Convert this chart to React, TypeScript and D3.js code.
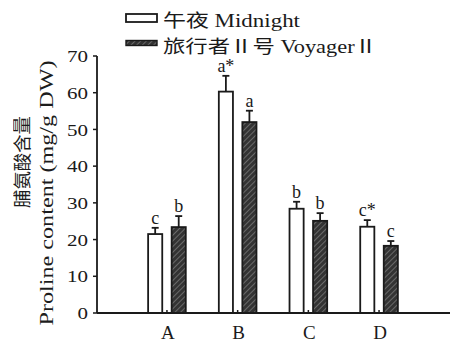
import * as d3 from 'd3'

const groups = ['A', 'B', 'C', 'D']
const seriesNames = ['午夜 Midnight', '旅行者Ⅱ号 VoyagerⅡ']
const midnight = [21.5, 60.3, 28.4, 23.5]
const midnightErr = [1.7, 4.3, 1.9, 1.8]
const voyager = [23.4, 52.0, 25.1, 18.3]
const voyagerErr = [3.0, 3.1, 2.1, 1.3]
const midnightLetters = ['c', 'a*', 'b', 'c*']
const voyagerLetters = ['b', 'a', 'b', 'c']
const yTicks = [0, 10, 20, 30, 40, 50, 60, 70]

const W = 451
const H = 343
const margin = { top: 56, right: 1, bottom: 30, left: 97 }
const font = '"Liberation Serif", "Times New Roman", "Noto Sans CJK SC", serif'
const ink = '#1a1a1a'

export default function App() {
  const y = d3.scaleLinear().domain([0, 70]).range([H - margin.bottom, margin.top])
  const x = d3.scaleBand().domain(groups).range([131.6, 414.4])
  const x1 = d3.scaleBand().domain(['m', 'v']).range([0, 40]).paddingInner(0.4).paddingOuter(0.05)
  const base = y(0)

  const series = [
    { key: 'm', vals: midnight, err: midnightErr, letters: midnightLetters, fill: '#fff' },
    { key: 'v', vals: voyager, err: voyagerErr, letters: voyagerLetters, fill: 'url(#hatch)' },
  ]

  return (
    <svg width={W} height={H} style={{ position: 'absolute', left: 0, top: 0, background: '#fff' }}>
      <defs>
        <pattern id="hatch" width="4" height="4" patternUnits="userSpaceOnUse" patternTransform="rotate(45)">
          <rect width="4" height="4" fill="#333" />
          <line x1="0" y1="0" x2="0" y2="4" stroke="#aaa" strokeWidth="0.9" />
        </pattern>
      </defs>

      {/* legend */}
      <rect x={126} y={14} width={31} height={8} fill="#fff" stroke={ink} strokeWidth={1.8} />
      <text x={163} y={27} fontFamily={font} fontSize={18} fill={ink} textLength={137} lengthAdjust="spacingAndGlyphs">
        {seriesNames[0]}
      </text>
      <rect x={126} y={40.5} width={31} height={5} fill="url(#hatch)" stroke={ink} strokeWidth={1.4} />
      <text x={163} y={53} fontFamily={font} fontSize={18} fill={ink} textLength={214} lengthAdjust="spacingAndGlyphs">
        {seriesNames[1]}
      </text>

      {/* y axis */}
      <line x1={margin.left} x2={margin.left} y1={y(70)} y2={base} stroke={ink} strokeWidth={1.8} />
      {yTicks.map((t) => (
        <g key={t}>
          <line x1={margin.left - 4} x2={margin.left} y1={y(t)} y2={y(t)} stroke={ink} strokeWidth={1.5} />
          <text
            x={margin.left - 9}
            y={y(t)}
            dy="0.36em"
            textAnchor="end"
            fontFamily={font}
            fontSize={17}
            fill={ink}
            textLength={String(t).length * 10.5}
            lengthAdjust="spacingAndGlyphs"
          >
            {t}
          </text>
        </g>
      ))}
      <g opacity={0.99}>
        <text
          transform="translate(29,162) rotate(-90)"
          textAnchor="middle"
          fontFamily={font}
          fontSize={18}
          fill={ink}
          textLength={92}
          lengthAdjust="spacingAndGlyphs"
        >
          脯氨酸含量
        </text>
        <text
          transform="translate(53,193) rotate(-90)"
          textAnchor="middle"
          fontFamily={font}
          fontSize={19}
          fill={ink}
          textLength={265}
          lengthAdjust="spacingAndGlyphs"
        >
          Proline content (mg/g DW)
        </text>
      </g>

      {/* bars */}
      {groups.map((g, i) => {
        const gx = (x(g) ?? 0) + x.bandwidth() / 2 - 20
        return (
          <g key={g}>
            {series.map((s) => {
              const bx = gx + (x1(s.key) ?? 0)
              const bw = x1.bandwidth()
              const cx = bx + bw / 2
              const top = y(s.vals[i])
              const et = y(s.vals[i] + s.err[i])
              return (
                <g key={s.key}>
                  <line x1={cx} x2={cx} y1={top} y2={et} stroke={ink} strokeWidth={1.8} />
                  <line x1={cx - 3.5} x2={cx + 3.5} y1={et} y2={et} stroke={ink} strokeWidth={1.8} />
                  <rect x={bx} y={top} width={bw} height={base - top} fill={s.fill} stroke={ink} strokeWidth={1.8} />
                  <text x={cx} y={et - 4} textAnchor="middle" fontFamily={font} fontSize={18} fill={ink}>
                    {s.letters[i]}
                  </text>
                </g>
              )
            })}
            <line x1={gx + 20} x2={gx + 20} y1={base} y2={base - 3} stroke={ink} strokeWidth={1.5} />
            <text x={gx + 21} y={base + 26} textAnchor="middle" fontFamily={font} fontSize={19} fill={ink}>
              {g}
            </text>
          </g>
        )
      })}

      {/* x axis */}
      <line x1={margin.left} x2={W - margin.right} y1={base} y2={base} stroke={ink} strokeWidth={1.8} />
    </svg>
  )
}
